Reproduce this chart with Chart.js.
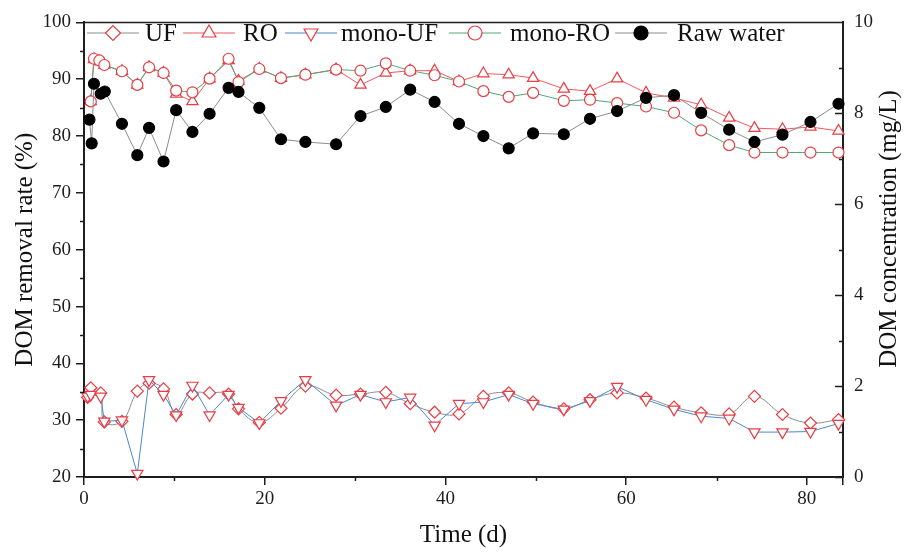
<!DOCTYPE html>
<html>
<head>
<meta charset="utf-8">
<script src="https://cdn.jsdelivr.net/npm/chart.js@4.4.1/dist/chart.umd.min.js"></script>
<style>
    html, body { margin: 0; padding: 0; background: #fff; }
    #wrap { width: 904px; height: 552px; }
</style>
</head>
<body>
<div id="wrap"><canvas id="chart" width="904" height="552"></canvas></div>
<script>
// Tiempos de muestreo (d)
const rawTime = [0.6, 0.85, 1.1, 1.85, 2.3, 4.2, 5.9, 7.2, 8.8, 10.2, 12.0, 13.9, 16.0, 17.1, 19.4, 21.8, 24.5, 27.9,
    30.6, 33.4, 36.1, 38.8, 41.5, 44.2, 47.0, 49.7, 53.1, 56.0, 59.0, 62.2, 65.3, 68.3, 71.4, 74.2, 77.3, 80.4, 83.5];
const roTime = [0.75, 1.1, 1.7, 2.25, 4.2, 5.9, 7.2, 8.8, 10.2, 12.0, 13.9, 16.0, 17.1, 19.4, 21.8, 24.5, 27.9,
    30.6, 33.4, 36.1, 38.8, 41.5, 44.2, 47.0, 49.7, 53.1, 56.0, 59.0, 62.2, 65.3, 68.3, 71.4, 74.2, 77.3, 80.4, 83.5];
const ufTime = [0.4, 0.75, 1.85, 2.25, 4.2, 5.9, 7.2, 8.8, 10.2, 12.0, 13.9, 16.0, 17.1, 19.4, 21.8, 24.5, 27.9,
    30.6, 33.4, 36.1, 38.8, 41.5, 44.2, 47.0, 49.7, 53.1, 56.0, 59.0, 62.2, 65.3, 68.3, 71.4, 74.2, 77.3, 80.4, 83.5];

// Tasa de eliminación (%)
const ufValues = [34.0, 35.7, 34.8, 29.7, 29.8, 35.1, 36.5, 35.5, 31.0, 34.6, 34.8, 34.6, 32.0, 29.6, 32.1, 36.0, 34.4,
    34.6, 34.9, 32.9, 31.4, 31.1, 34.2, 34.8, 33.2, 32.0, 33.6, 34.8, 33.9, 32.3, 31.3, 31.1, 34.2, 31.0, 29.5, 30.1];
const monoUfValues = [34.2, 34.5, 34.2, 29.8, 30.0, 20.6, 37.1, 34.5, 30.9, 36.1, 30.9, 34.5, 32.2, 29.5, 33.4, 37.1, 32.6,
    34.5, 33.2, 34.0, 29.1, 32.9, 33.2, 34.5, 32.9, 31.9, 33.4, 35.9, 33.6, 31.9, 30.7, 30.3, 27.9, 27.9, 28.0, 29.4];
const roValues = [86.1, 93.5, 93.1, 92.5, 91.4, 89.0, 92.1, 91.1, 87.4, 86.1, 90.1, 93.3, 89.7, 91.8, 90.2, 90.8, 91.7,
    89.0, 91.1, 91.5, 91.5, 89.6, 91.0, 90.8, 90.2, 88.3, 87.9, 90.1, 87.6, 86.7, 85.5, 83.2, 81.4, 81.2, 81.6, 80.9];
const monoRoValues = [86.1, 93.6, 93.3, 92.5, 91.4, 89.0, 92.1, 91.1, 88.0, 87.7, 90.1, 93.6, 89.5, 91.8, 90.2, 90.8, 91.7,
    91.5, 92.8, 91.5, 90.7, 89.6, 87.9, 86.9, 87.6, 86.2, 86.4, 85.8, 85.2, 84.1, 81.0, 78.4, 77.1, 77.1, 77.1, 77.1];

// Concentración de DOM en agua bruta (mg/L)
const rawValues = [7.86, 7.34, 8.65, 8.43, 8.48, 7.77, 7.08, 7.68, 6.94, 8.07, 7.59, 7.99, 8.56, 8.47, 8.12, 7.43, 7.37, 7.32,
    7.94, 8.14, 8.52, 8.25, 7.77, 7.50, 7.23, 7.56, 7.54, 7.88, 8.05, 8.34, 8.40, 8.01, 7.64, 7.37, 7.53, 7.81, 8.21];

const seriesLabels = ['UF', 'RO', 'mono-UF', 'mono-RO', 'Raw water'];

const FONT = "'Liberation Serif', 'Times New Roman', serif";
const RED = '#ea3c43';
const AXIS = '#1e1e1e';

const toPoints = (xs, ys) => xs.map((x, i) => ({ x: x, y: ys[i] }));

const styles = [
    { line: '#8c8c8c', style: 'rectRot', rot: 0, r: 6, fill: '#fff', stroke: RED, tension: 0.4 },
    { line: '#ee5a5f', style: 'triangle', rot: 0, r: 6.5, fill: '#fff', stroke: RED, tension: 0 },
    { line: '#4b86cc', style: 'triangle', rot: 180, r: 6.5, fill: '#fff', stroke: RED, tension: 0 },
    { line: '#4fa877', style: 'circle', rot: 0, r: 5.5, fill: '#fff', stroke: RED, tension: 0 },
    { line: '#8c8c8c', style: 'circle', rot: 0, r: 5.5, fill: '#000', stroke: '#000', tension: 0 }
];

const makeDataset = (i, data, axis, order) => ({
    label: seriesLabels[i],
    data: data,
    yAxisID: axis,
    order: order,
    borderColor: styles[i].line,
    borderWidth: 1,
    tension: styles[i].tension,
    pointStyle: styles[i].style,
    rotation: styles[i].rot,
    pointRadius: styles[i].r,
    pointBackgroundColor: styles[i].fill,
    pointBorderColor: styles[i].stroke,
    pointBorderWidth: 1.2,
    clip: 8
});

// Ticks menores, marco superior, leyenda y título del eje derecho
const decorations = {
    id: 'decorations',
    afterDraw: (chart) => {
        const ctx = chart.ctx;
        const area = chart.chartArea;
        const sx = chart.scales.x, sy = chart.scales.y, sy2 = chart.scales.y2;
        ctx.save();
        ctx.strokeStyle = AXIS;
        ctx.lineWidth = 1.5;
        ctx.beginPath();
        ctx.moveTo(area.left - 1, area.top);
        ctx.lineTo(area.right + 1, area.top);
        [25, 35, 45, 55, 65, 75, 85, 95].forEach(v => {
            const p = Math.round(sy.getPixelForValue(v)) + 0.5;
            ctx.moveTo(area.left, p); ctx.lineTo(area.left - 4, p);
        });
        [10, 30, 50, 70].forEach(v => {
            const p = Math.round(sx.getPixelForValue(v)) + 0.5;
            ctx.moveTo(p, area.bottom); ctx.lineTo(p, area.bottom + 4);
        });
        for (let v = 0; v <= 10; v++) {
            const p = Math.round(sy2.getPixelForValue(v)) + 0.5;
            ctx.moveTo(area.right, p); ctx.lineTo(area.right - (v % 2 === 0 ? 8 : 4), p);
        }
        ctx.stroke();

        // leyenda
        const ly = 33;
        const legendPos = [[87, 145], [183, 243], [285, 341], [449, 510], [615, 677]];
        ctx.font = '25px ' + FONT;
        ctx.textBaseline = 'middle';
        ctx.fillStyle = '#111';
        legendPos.forEach((pos, i) => {
            const st = styles[i];
            const x0 = pos[0], x1 = pos[0] + 52;
            ctx.strokeStyle = st.line;
            ctx.lineWidth = 1;
            ctx.beginPath();
            ctx.moveTo(x0, ly); ctx.lineTo(x1, ly);
            ctx.stroke();
            ctx.fillStyle = st.fill;
            ctx.strokeStyle = st.stroke;
            ctx.lineWidth = 1.2;
            Chart.helpers.drawPoint(ctx, { pointStyle: st.style, rotation: st.rot, radius: st.r + 1.5, borderWidth: 1.2 },
                (x0 + x1) / 2, ly);
            ctx.fillStyle = '#111';
            ctx.fillText(seriesLabels[i], pos[1], ly + 1);
        });

        // título del eje derecho
        ctx.translate(889, 229);
        ctx.rotate(-Math.PI / 2);
        ctx.textAlign = 'center';
        ctx.fillText('DOM concentration (mg/L)', 0, 0);
        ctx.restore();
    }
};

const ctx = document.getElementById('chart');

new Chart(ctx, {
    type: 'line',
    data: {
        datasets: [
            makeDataset(4, toPoints(rawTime, rawValues), 'y2', 0),
            makeDataset(0, toPoints(ufTime, ufValues), 'y', 2),
            makeDataset(1, toPoints(roTime, roValues), 'y', 2),
            makeDataset(2, toPoints(ufTime, monoUfValues), 'y', 1),
            makeDataset(3, toPoints(roTime, monoRoValues), 'y', 1)
        ]
    },
    options: {
        responsive: false,
        animation: false,
        layout: { padding: { top: 20, left: 0, right: 0, bottom: 0 } },
        plugins: {
            legend: { display: false },
            tooltip: { enabled: false }
        },
        scales: {
            x: {
                type: 'linear',
                min: 0,
                max: 84,
                afterFit: (s) => { s.height = 75; },
                ticks: {
                    stepSize: 20,
                    padding: 3,
                    color: AXIS,
                    font: { family: FONT, size: 19 },
                    callback: (v) => (v % 20 === 0 ? v : '')
                },
                grid: { drawOnChartArea: false, tickLength: 8, color: AXIS, lineWidth: 1.5 },
                border: { color: AXIS, width: 2 },
                title: {
                    display: true,
                    text: 'Time (d)',
                    color: '#111',
                    font: { family: FONT, size: 25 },
                    padding: { top: 0, bottom: 2 }
                }
            },
            y: {
                position: 'left',
                min: 20,
                max: 100,
                afterFit: (s) => { s.width = 84; },
                ticks: {
                    stepSize: 10,
                    padding: 5,
                    color: AXIS,
                    font: { family: FONT, size: 19 }
                },
                grid: { drawOnChartArea: false, tickLength: 8, color: AXIS, lineWidth: 1.5 },
                border: { color: AXIS, width: 2 },
                title: {
                    display: true,
                    text: 'DOM removal rate (%)',
                    color: '#111',
                    font: { family: FONT, size: 25 },
                    padding: { top: 10, bottom: 0 }
                }
            },
            y2: {
                position: 'right',
                min: 0,
                max: 10,
                afterFit: (s) => { s.width = 61; },
                ticks: {
                    stepSize: 2,
                    padding: 11,
                    color: AXIS,
                    font: { family: FONT, size: 19 }
                },
                grid: { display: false, drawTicks: false },
                border: { color: AXIS, width: 2 }
            }
        }
    },
    plugins: [decorations]
});
</script>
</body>
</html>
